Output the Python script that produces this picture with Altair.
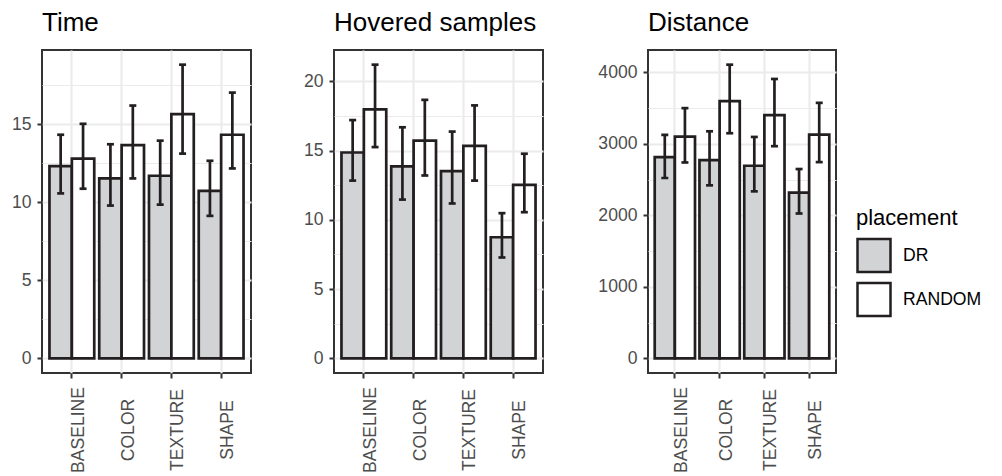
import altair as alt
import pandas as pd

categories = ["BASELINE", "COLOR", "TEXTURE", "SHAPE"]
placements = ["DR", "RANDOM"]

# Time
time_mean_dr = [12.32, 11.53, 11.70, 10.73]
time_mean_random = [12.80, 13.66, 15.65, 14.33]
time_lo_dr = [10.57, 9.79, 9.85, 9.13]
time_hi_dr = [14.33, 13.72, 13.95, 12.66]
time_lo_random = [10.87, 11.53, 13.12, 12.17]
time_hi_random = [15.03, 16.20, 18.82, 17.03]
time_ticks = [0, 5, 10, 15]

# Hovered samples
hover_mean_dr = [14.86, 13.86, 13.52, 8.74]
hover_mean_random = [17.97, 15.72, 15.34, 12.52]
hover_lo_dr = [12.83, 11.46, 11.18, 7.28]
hover_hi_dr = [17.20, 16.68, 16.37, 10.48]
hover_lo_random = [15.25, 13.20, 12.83, 10.55]
hover_hi_random = [21.20, 18.66, 18.26, 14.77]
hover_ticks = [0, 5, 10, 15, 20]

# Distance
dist_mean_dr = [2815, 2773, 2694, 2318]
dist_mean_random = [3101, 3598, 3403, 3129]
dist_lo_dr = [2523, 2420, 2336, 2026]
dist_hi_dr = [3125, 3176, 3097, 2648]
dist_lo_random = [2740, 3149, 2968, 2745]
dist_hi_random = [3500, 4108, 3908, 3574]
dist_ticks = [0, 1000, 2000, 3000, 4000]

fill_colors = ["#D1D3D4", "#FFFFFF"]
INK = "#231F20"
FONT = "Liberation Sans"


def make_df(mean_dr, mean_rnd, lo_dr, lo_rnd, hi_dr, hi_rnd):
    rows = []
    for i, c in enumerate(categories):
        rows.append(dict(cat=c, placement="DR", mean=mean_dr[i], lo=lo_dr[i], hi=hi_dr[i]))
        rows.append(dict(cat=c, placement="RANDOM", mean=mean_rnd[i], lo=lo_rnd[i], hi=hi_rnd[i]))
    return pd.DataFrame(rows)


def panel(df, title, major, width, yextent):
    top = float(max(df["hi"].max(), df["mean"].max()))
    rng = top - 0.0
    domain = [-0.05 * rng, top + 0.05 * rng]
    step = major[1] - major[0]
    minor = [m + step / 2 for m in major + [major[-1] + step] if domain[0] <= m + step / 2 <= domain[1]]
    vals = sorted(major + minor)
    test_minor = f"datum.value % {step} != 0"

    x = alt.X(
        "cat:N",
        sort=categories,
        scale=alt.Scale(paddingInner=0.1, paddingOuter=0.15),
        axis=alt.Axis(
            title=None, labelAngle=270, labelAlign="center", labelBaseline="top",
            labelPadding=51.5, labelOffset=-2,
            labelFontSize=17.6, labelColor="#4D4D4D",
            tickSize=5, tickWidth=2, tickColor="#333333", domain=False,
            grid=True, gridColor="#EBEBEB", gridWidth=2.1,
        ),
    )
    xoff = alt.XOffset("placement:N", sort=placements,
                       scale=alt.Scale(paddingInner=0, paddingOuter=0))
    yscale = alt.Scale(domain=domain, nice=False, zero=False)
    yaxis = alt.Axis(
        title=None, values=vals, format="d",
        labelExpr=f"datum.value % {step} == 0 ? datum.label : ''",
        labelFontSize=17.6, labelColor="#4D4D4D", labelPadding=6,
        tickSize=5, tickWidth=2, tickColor="#333333",
        tickOpacity={"condition": {"test": test_minor, "value": 0}, "value": 1},
        domain=False, grid=True, gridColor="#EBEBEB",
        gridWidth={"condition": {"test": test_minor, "value": 1.1}, "value": 2.1},
        minExtent=yextent,
    )

    base = alt.Chart(df)
    bars = base.mark_bar(stroke=INK, strokeWidth=2.7).encode(
        x=x, xOffset=xoff,
        y=alt.Y("mean:Q", scale=yscale, axis=yaxis),
        fill=alt.Fill("placement:N", sort=placements,
                      scale=alt.Scale(domain=placements, range=fill_colors),
                      legend=alt.Legend(title="placement")),
    )
    rules = base.mark_rule(color=INK, strokeWidth=2.7).encode(
        x=x, xOffset=xoff, y=alt.Y("lo:Q"), y2="hi:Q",
    )
    cap_lo = base.mark_tick(color=INK, size=7, thickness=2.7, opacity=1).encode(
        x=x, xOffset=xoff, y=alt.Y("lo:Q"),
    )
    cap_hi = base.mark_tick(color=INK, size=7, thickness=2.7, opacity=1).encode(
        x=x, xOffset=xoff, y=alt.Y("hi:Q"),
    )
    return alt.layer(bars, rules, cap_lo, cap_hi).properties(
        width=width, height=323,
        title=alt.TitleParams(text=title, anchor="start", frame="group", fontSize=26,
                              fontWeight="normal", font=FONT, color="black",
                              baseline="bottom", offset=-11.5),
    )


p1 = panel(make_df(time_mean_dr, time_mean_random, time_lo_dr, time_lo_random,
                   time_hi_dr, time_hi_random), "Time", time_ticks, 209, 30)
p2 = panel(make_df(hover_mean_dr, hover_mean_random, hover_lo_dr, hover_lo_random,
                   hover_hi_dr, hover_hi_random), "Hovered samples", hover_ticks, 209, 61)
p3 = panel(make_df(dist_mean_dr, dist_mean_random, dist_lo_dr, dist_lo_random,
                   dist_hi_dr, dist_hi_random), "Distance", dist_ticks, 188, 83)

chart = (
    alt.hconcat(p1, p2, p3, spacing=20)
    .resolve_scale(fill="shared", x="independent", xOffset="independent", y="independent")
    .properties(padding={"left": 2, "top": 0, "right": 5, "bottom": 0})
    .configure(font=FONT)
    .configure_view(stroke="#333333", strokeWidth=2)
    .configure_legend(
        orient="none", legendX=814, legendY=158,
        titleFontSize=22, titleFontWeight="normal", titleColor="black", titleFont=FONT,
        labelFontSize=17.6, labelColor="black", labelFont=FONT,
        symbolType="square", symbolSize=1089, symbolStrokeColor=INK,
        symbolStrokeWidth=2.5, symbolOpacity=1, rowPadding=0, labelOffset=11,
        titlePadding=7.5, padding=0,
    )
)

chart.save("out.html", embed_options={"renderer": "svg", "actions": False})
